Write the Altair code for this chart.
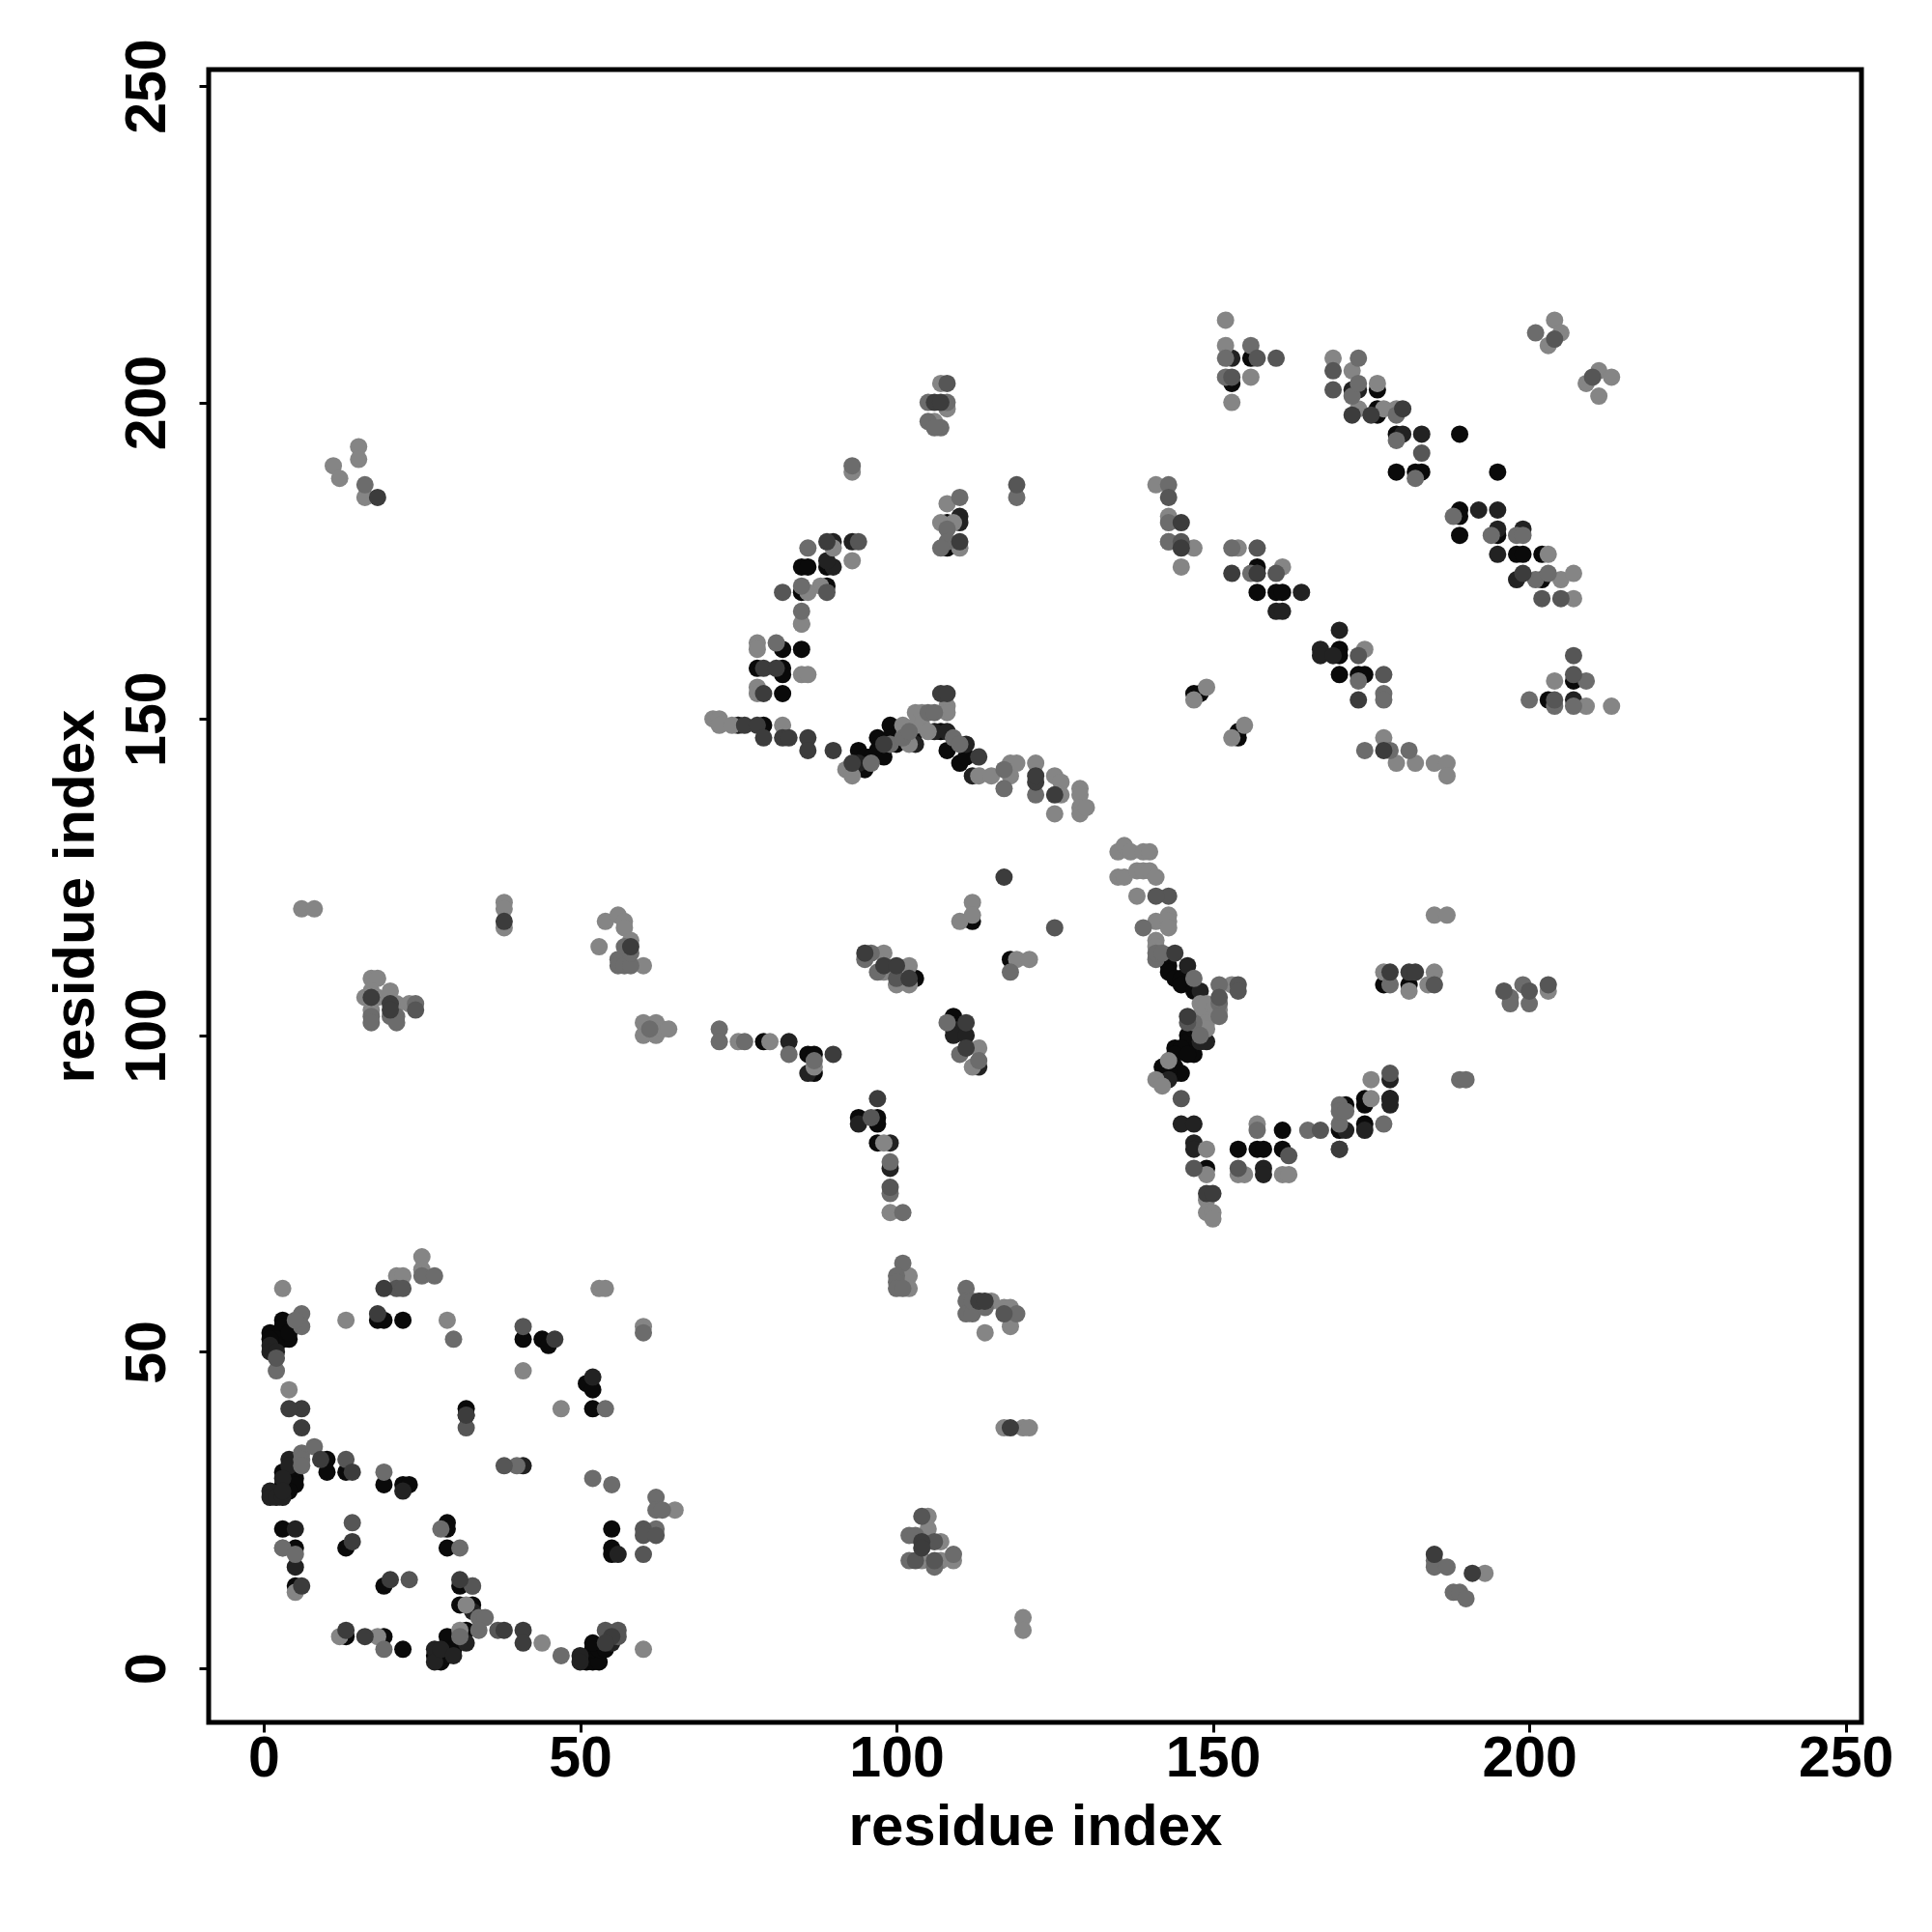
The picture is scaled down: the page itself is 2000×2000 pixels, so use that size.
import altair as alt
import pandas as pd

# contacts (residue i, residue j) grouped by gray level
black = [(3,55),(18,55),(19,55),(22,55),(1,53),(3,54),(3,52),(4,52),(2,52),(2,51),(1,52),(4,53),
(10,33),(10,31),(13,31),(3,31),(4,31),(5,30),(5,29),(3,29),(4,28),(19,29),(22,29),(23,29),
(32,41),(41,52),(44,52),(45,51),(51,45),(52,44),(52,41),(55,22),(55,19),(55,18),(3,22),(5,19),(5,13),
(13,19),(19,13),(29,23),(29,22),(29,19),(31,13),(31,10),(33,10),(32,6),(29,5),(30,3),
(13,5),(19,5),(22,3),(27,2),(28,1),(29,2),(51,1),(52,1),(53,1),(52,3),(53,3),(54,3),(52,4),
(79,149),(82,161),(85,161),(82,158),(82,157),(82,154),(78,158),
(94,145),(95,142),(95,144),(96,144),(97,147),(97,145),(98,144),(99,149),(99,147),(100,146),(103,148),
(107,148),(108,145),(110,143),(111,144),
(153,203),(156,207),(176,202),(176,199),(176,198),(179,195),(179,189),(182,189),(183,189),(189,195),(195,189),
(189,183),(189,182),(189,179),(195,179),(198,176),(199,176),(202,176),(202,172),
(157,174),(157,170),(160,170),(161,170),(170,161),(170,160),(170,157),(173,157),(174,157),
(147,154),(148,154),(154,148),(154,147),(207,156),(203,153),
(143,111),(143,110),(144,109),(145,109),(145,108),(147,107),(146,100),(146,99),(147,101),(147,97),
(144,98),(145,98),(144,97),(146,97),(142,95),(144,95),(144,94),(145,94),(143,94),
(149,79),(154,82),(157,82),(158,82),(161,85),(161,82),(170,85),(171,89),(174,90),(174,89),(174,86),(178,90),
(177,108),(181,108),(79,99),(86,97),(87,97),(87,94),(103,109),(109,103),(112,118),(118,112),
(94,87),(97,87),(97,86),(97,83),(89,174),(85,174),(86,174),(85,170),(89,171),(108,177),(108,181)]

near_black = [(1,51),(1,50),(2,50),(4,33),(4,32),(3,30),(1,28),(1,27),(2,27),(3,27),(3,28),(22,28),
(41,32),(32,40) ,(52,46),(5,22),(5,16),(56,18),(27,3),(27,1),(28,3),(30,2),(33,9),(32,4),(50,2),(50,1),(55,4),
(75,149),(94,143),(99,146),(103,146),(106,148),(108,148),(111,146),(112,141),(178,90),
(153,207),(172,202),(173,202),(180,195),(183,195),(192,183),(195,183),(195,180),(199,180),(195,176),(198,172),
(164,170),(160,167),(161,167),(170,164),(167,161),(167,160),(169,160),(207,153),
(146,111),(148,107),(148,99),(149,99),(143,93),(145,86),(147,86),(147,83),(147,82),(158,79),(158,78),
(171,85),(174,85),(178,89),(178,93),(83,99),(86,94),(109,101),(109,100),(111,100),(113,95),
(94,86),(99,83),(99,79),(90,178),(93,178),(90,174),(89,175),(110,182),(110,181),(157,173)]

dark = [(19,60),(18,56),(6,41),(4,41),(6,38),(9,33),(14,31),(20,14),(14,20),(31,14),(6,13),(38,6),(41,6),(41,4),
(13,6),(16,5),(46,52),(32,40),(55,5),(54,4),(76,149),(78,149),(79,147),(82,147),(83,147),(86,147),(86,145),
(79,158),(81,158),(79,154),(93,143),(98,146),(122,140),(122,141),(125,138),(113,144),(90,145),(107,154),(108,154),
(153,173),(157,173),(145,177),(145,181),(173,153),(177,145),(172,198),(175,198),(180,199),(149,75),(150,75),
(144,113),(146,103),(178,110),(181,110),(182,110),(170,82),(117,125),(95,113),(98,111),(100,111),(102,109),
(111,98),(111,102),(97,90),(90,97),(58,114),(38,118),(17,106),(20,105),(20,104),(89,178),(110,178),(104,20),
(118,38),(113,58),(114,58),(185,18),(191,15),(18,185),(106,200),(107,200),(199,173),(104,19)]

mid_dark = [(2,49),(14,23),(38,32),(13,33),(32,38),(41,54),(23,14),(33,13),(21,60),(22,60),(60,22),(60,21),(60,18),
(62,21),(37,6),(54,6),(56,6),(56,5),(89,170),(82,170),(94,178),(160,207),(157,207),(157,177),(160,173),
(169,205),(169,202),(183,192),(205,169),(202,169),(207,160),(207,157),(204,153),(173,160),(177,157),(153,204),(204,210),(210,204),
(143,122),(141,122),(151,106),(154,108),(154,107),(145,90),(146,102),(147,79),(154,79),(162,81),(167,85),(170,82),(178,94),
(185,108),(196,107),(200,107),(203,108),(100,109),(125,117),(24,104),(96,87),(99,76),(104,24),(106,20),(103,17),(117,56),(106,17),(108,203),(119,187),(145,178),(143,185)]

mid = [(6,56),(6,54),(5,55),(25,62),(27,62),(2,47),(54,41),(3,19),(5,18),(28,22),(31,19),(33,13),(34,8),(35,8),(34,6),(31,5),
(62,27),(62,25),(63,25),(62,22),(52,30),(55,29),(19,31),(30,52),(60,53),(47,2),(19,3),(6,34),(6,33),(6,32),(8,35),(40,32),
(72,101),(76,99),(81,162),(96,143),(99,146),(101,147),(102,148),(105,151),(106,151),(109,147),(110,146),(117,142),(117,139),(122,138),
(156,209),(152,207),(152,204),(173,207),(172,201),(173,203),(179,198),(188,182),(194,179),(198,179),(199,179),(201,172),(203,173),
(179,194),(182,188),(201,211),(143,187),(143,181),(143,178),(153,177),(156,173),(173,156),(177,154),(177,153),(174,145),(178,145),(181,145),
(207,152),(204,152),(209,156),(200,153),(139,117),(141,112),(141,113),(142,113),(147,109),(151,108),(151,105),(151,103),(147,102),(148,100),
(157,85),(165,85),(170,86),(170,89),(177,86),(178,108),(189,93),(190,93),(197,106),(197,105),(199,108),(200,105),(72,99),(83,97),(87,96),
(108,102),(110,97),(113,96),(99,75),(99,80),(95,112),(96,113),(97,110),(118,110),(56,112),(56,111),(57,111),(58,111),(57,114),(58,113),(61,101),
(17,103),(17,102),(20,103),(21,103),(21,102),(24,105),(86,177),(85,167),(85,171),(110,185),(108,180),(108,178),(107,177),(105,200),(108,200),(105,197),(107,196),(106,196),
(93,190),(119,185),(101,64),(100,62),(100,61),(100,60),(101,60),(111,60),(111,58),(111,56),(112,56),(112,58),(114,57),(119,56),
(102,21),(103,21),(102,17),(106,16),(109,18),(185,17),(185,16),(187,16),(188,12),(189,12),(190,11),(16,187),(101,72),(170,88),(171,88)]

light = [(25,65),(25,63),(21,62),(22,62),(3,60),(13,55),(29,55),(4,44),(41,47),(47,41),(53,60),(54,60),(60,54),(65,25),(3,19),(5,12),
(12,5),(18,5),(32,10),(31,6),(44,4),(60,3),(78,162),(78,161),(82,149),(85,157),(86,157),(78,155),(78,154),(85,165),
(71,150),(72,150),(72,149),(74,149),(92,142),(93,141),(101,149),(102,146),(103,151),(103,149),(104,151),(104,149),(105,148),
(108,152),(108,151),(113,141),(115,141),(118,143),(118,141),(119,143),(122,143),(125,141),(125,135),(126,140),(126,138),
(129,139),(129,138),(129,136),(129,135),(130,136),(112,121),(152,213),(152,209),(156,204),(153,200),(169,207),(172,205),(176,203),(173,199),
(177,199),(179,199),(203,176),(205,172),(207,173),(207,169),(204,213),(205,211),(203,209),(211,205),(213,204),(209,203),(211,201),
(141,187),(143,182),(143,178),(147,177),(145,174),(154,177),(161,174),(174,161),(149,155),(147,153),(155,149),(153,147),(177,147),(204,156),(209,152),(213,152),
(179,143),(182,143),(185,143),(187,143),(187,141),(135,129),(136,130),(137,129),(139,129),(140,129),(135,125),(136,125),(138,126),(139,126),(140,126),(141,125),
(138,122),(143,119),(141,118),(143,118),(143,117),(141,115),(141,114),(153,108),(148,105),(149,105),(150,104),(151,104),(148,103),(149,102),(149,101),(143,96),(141,93),(142,92),
(149,82),(149,78),(149,74),(149,72),(150,72),(150,71),(154,78),(155,78),(157,86),(161,78),(162,78),(175,90),(175,93),(185,110),(184,108),(181,107),(177,110),(203,107),
(185,119),(187,119),(75,99),(80,99),(87,95),(98,113),(98,110),(102,111),(100,108),(102,108),(113,98),(112,95),(119,112),(121,112),(110,118),(112,119),(98,83),(99,72),
(6,120),(8,120),(38,121),(38,120),(38,117),(54,118),(56,119),(57,118),(57,117),(53,114),(58,115),(60,111),(60,102),(62,102),(60,100),(62,100),(63,101),(64,101),
(17,109),(18,109),(16,106),(17,107),(18,106),(17,104),(20,107),(21,105),(23,105),(11,190),(12,188),(15,193),(15,191),(16,185),
(93,175),(90,177),(88,171),(86,170),(85,165),(107,203),(106,197),(108,199),(93,189),(108,184),(107,181),(109,181),(110,177),
(102,62),(102,60),(115,58),(117,57),(118,57),(118,54),(114,53),(117,38),(120,38),(121,38),(105,24),(105,22),(107,20),(104,17),(107,17),(109,17),(120,8),(120,6),(193,15)]

shades = [("#0a0a0a", black), ("#222222", near_black), ("#858585", light), ("#6c6c6c", mid), ("#565656", mid_dark), ("#3c3c3c", dark)]
x_ticks = [0, 50, 100, 150, 200, 250]
y_ticks = [0, 50, 100, 150, 200, 250]

rows = []
for rank, (shade, pts) in enumerate(shades):
    for i, j in pts:
        rows.append({"i": i, "j": j, "shade": shade, "rank": rank})
df = pd.DataFrame(rows)

FONT = "Liberation Sans"
chart = (
    alt.Chart(df)
    .mark_circle(size=324, opacity=1, strokeWidth=0)
    .encode(
        x=alt.X("i:Q", scale=alt.Scale(domain=[-8.7, 252.5], nice=False, zero=False),
                axis=alt.Axis(title="residue index", values=x_ticks, grid=False, domain=False,
                              tickSize=10, tickWidth=3, tickColor="black", labelPadding=-2,
                              labelFont=FONT, labelFontSize=59, labelFontWeight="bold", labelColor="black",
                              labelFlush=False, labelOverlap=False, labelBound=False,
                              titleFont=FONT, titleFontSize=60, titleFontWeight="bold", titleColor="black",
                              titlePadding=12)),
        y=alt.Y("j:Q", scale=alt.Scale(domain=[-8.55, 252.6], nice=False, zero=False),
                axis=alt.Axis(title="residue index", values=y_ticks, grid=False, domain=False,
                              tickSize=10, tickWidth=3, tickColor="black", labelPadding=24,
                              labelAngle=270, labelAlign="center", labelBaseline="bottom",
                              labelFont=FONT, labelFontSize=59, labelFontWeight="bold", labelColor="black",
                              labelFlush=False, labelOverlap=False, labelBound=False,
                              titleFont=FONT, titleFontSize=60, titleFontWeight="bold", titleColor="black",
                              titlePadding=14)),
        color=alt.Color("shade:N", scale=None, legend=None),
        order=alt.Order("rank:Q"),
    )
    .properties(width=1711, height=1711, background="white",
                autosize=alt.AutoSizeParams(type="none"),
                padding={"left": 208, "top": 64, "right": 55, "bottom": 160})
    .configure_view(stroke="black", strokeWidth=5)
)
chart.save("out.html", embed_options={"renderer": "svg", "actions": False})
